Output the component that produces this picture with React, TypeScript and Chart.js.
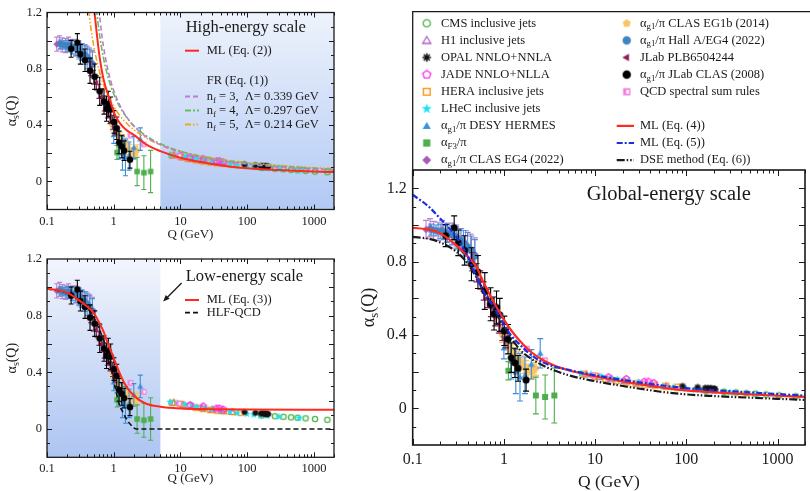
import React, { useEffect, useRef } from 'react';
import { Chart, registerables } from 'chart.js';

Chart.register(...registerables);

const SERIF = '"Liberation Serif", "Times New Roman", Times, serif';
const INK = '#1a1a1a';

// Axis ticks shared by the three panels
const xMajorTicks = [0.1, 1, 10, 100, 1000];
const yLabelTicks = [0, 0.4, 0.8, 1.2];

// ---------- extractions of alpha_s(Q): Q in GeV, value, uncertainty ----------
const cmsQ = [165, 260, 350, 455, 570, 750, 1040, 1590];
const cmsA = [0.095, 0.09, 0.086, 0.082, 0.079, 0.075, 0.07, 0.065];

const h1Q = [8, 11, 15, 21, 30, 42, 60];
const h1A = [0.185, 0.17, 0.158, 0.148, 0.137, 0.128, 0.12];

const opalQ = [91, 133, 161, 172, 183, 189, 200, 206];
const opalA = [0.12, 0.114, 0.11, 0.109, 0.108, 0.107, 0.106, 0.105];

const jadeQ = [14, 22, 34.6, 38.3, 43.8];
const jadeA = [0.17, 0.16, 0.145, 0.146, 0.138];

const heraQ = [7.5, 10, 13, 17, 22, 28, 35, 45, 60, 80];
const heraA = [0.185, 0.175, 0.16, 0.15, 0.142, 0.135, 0.13, 0.125, 0.12, 0.115];

const lhecQ = [7, 9, 11.7, 15, 17.5, 23, 30, 40, 55, 71, 99, 125, 155, 200, 300, 600];
const lhecA = [0.19, 0.185, 0.175, 0.165, 0.157, 0.148, 0.14, 0.13, 0.12, 0.113, 0.106, 0.101, 0.097, 0.093, 0.087, 0.078];

const hermesQ = [1.0, 1.2, 1.35, 1.5, 1.7, 2.0, 2.5];
const hermesA = [0.33, 0.26, 0.2, 0.17, 0.18, 0.24, 0.3];
const hermesE = [0.06, 0.1, 0.12, 0.13, 0.1, 0.08, 0.08];

const f3Q = [1.12, 2.24, 2.83, 3.57];
const f3A = [0.205, 0.07, 0.062, 0.07];
const f3E = [0.05, 0.1, 0.12, 0.15];

const eg4Q = [0.14, 0.155, 0.17, 0.19, 0.21, 0.24, 0.27, 0.3, 0.34, 0.38, 0.43, 0.48];
const eg4A = [0.975, 0.985, 0.97, 0.965, 0.975, 0.96, 0.95, 0.94, 0.92, 0.9, 0.87, 0.84];
const eg4E = [0.05, 0.05, 0.05, 0.05, 0.05, 0.05, 0.06, 0.06, 0.06, 0.07, 0.08, 0.09];

const eg1bQ = [0.95, 1.05, 1.15, 1.25, 1.35, 1.45, 1.55, 1.65, 1.75, 1.85, 1.95, 2.05, 2.15, 2.25];
const eg1bA = [0.4, 0.37, 0.34, 0.31, 0.29, 0.27, 0.25, 0.23, 0.22, 0.2, 0.2, 0.2, 0.21, 0.22];
const eg1bE = [0.04, 0.04, 0.04, 0.04, 0.04, 0.04, 0.04, 0.04, 0.04, 0.04, 0.04, 0.04, 0.04, 0.04];

const hallAQ = [0.16, 0.18, 0.2, 0.22, 0.24, 0.27, 0.3, 0.33, 0.36, 0.4, 0.44, 0.48];
const hallAA = [0.975, 0.97, 0.965, 0.96, 0.955, 0.945, 0.93, 0.92, 0.9, 0.88, 0.86, 0.83];
const hallAE = [0.03, 0.03, 0.04, 0.04, 0.05, 0.05, 0.06, 0.06, 0.07, 0.08, 0.08, 0.09];

const plbQ = [0.45, 0.5, 0.55, 0.6, 0.66, 0.72, 0.8, 0.88, 0.96, 1.05];
const plbA = [0.8, 0.74, 0.7, 0.64, 0.6, 0.55, 0.5, 0.46, 0.42, 0.38];
const plbE = [0.05, 0.05, 0.05, 0.05, 0.05, 0.05, 0.05, 0.05, 0.05, 0.05];

const clasQ = [0.23, 0.285, 0.316, 0.371, 0.441, 0.519, 0.617, 0.715, 0.78, 0.83, 0.9, 1.01, 1.11, 1.2, 1.32, 1.43, 1.75];
const clasA = [0.942, 0.985, 0.903, 0.861, 0.786, 0.744, 0.64, 0.568, 0.517, 0.55, 0.51, 0.423, 0.377, 0.276, 0.248, 0.218, 0.154];
const clasE = [0.06, 0.065, 0.07, 0.08, 0.09, 0.09, 0.1, 0.09, 0.09, 0.09, 0.09, 0.08, 0.08, 0.08, 0.08, 0.07, 0.06];

const ssrQ = [1.78, 2.8, 9.5];
const ssrA = [0.325, 0.262, 0.18];

// ---------- model curves ----------
// high-energy panel
const ml2Q = [0.5, 0.56, 0.62, 0.7, 0.88, 1.05, 1.25, 1.5, 2, 3, 5, 10, 20, 50, 100, 200, 500, 1000, 2000];
const ml2A = [1.26, 1.04, 0.87, 0.73, 0.575, 0.47, 0.41, 0.37, 0.33, 0.265, 0.215, 0.168, 0.137, 0.108, 0.094, 0.084, 0.076, 0.07, 0.066];

const fr3Q = [0.6, 0.65, 0.7, 0.8, 0.9, 1, 1.2, 1.5, 2, 3, 5, 10, 20, 50, 100, 200, 500, 1000, 2000];
const fr3A = [1.222, 1.072, 0.963, 0.813, 0.715, 0.645, 0.552, 0.47, 0.393, 0.32, 0.26, 0.206, 0.171, 0.14, 0.123, 0.109, 0.096, 0.087, 0.08];

const fr4Q = [0.55, 0.6, 0.7, 0.8, 0.9, 1, 1.2, 1.5, 2, 3, 5, 10, 20, 50, 100, 200, 500, 1000, 2000];
const fr4A = [1.224, 1.072, 0.879, 0.761, 0.68, 0.621, 0.54, 0.466, 0.395, 0.326, 0.267, 0.214, 0.179, 0.147, 0.13, 0.116, 0.102, 0.093, 0.086];

const fr5Q = [0.42, 0.45, 0.5, 0.6, 0.7, 0.8, 1, 1.2, 1.5, 2, 3, 5, 10, 20, 50, 100, 200, 500, 1000, 2000];
const fr5A = [1.216, 1.103, 0.966, 0.795, 0.692, 0.622, 0.532, 0.475, 0.421, 0.367, 0.31, 0.26, 0.213, 0.181, 0.15, 0.133, 0.12, 0.106, 0.097, 0.09];

// low-energy panel
const ml3Q = [0.1, 0.15, 0.2, 0.3, 0.4, 0.5, 0.6, 0.7, 0.8, 1, 1.2, 1.5, 2, 3, 5, 10, 30, 100, 2000];
const ml3A = [0.99, 0.98, 0.962, 0.91, 0.865, 0.82, 0.755, 0.69, 0.615, 0.5, 0.405, 0.31, 0.235, 0.18, 0.157, 0.145, 0.14, 0.137, 0.135];

const hlfQ = [0.1, 0.2, 0.3, 0.4, 0.5, 0.6, 0.7, 0.8, 1, 1.2, 1.4, 1.6, 1.8, 2, 2.2, 10, 100, 2000];
const hlfA = [0.99, 0.96, 0.91, 0.855, 0.79, 0.71, 0.63, 0.55, 0.34, 0.18, 0.11, 0.06, 0.03, 0.008, 0, 0, 0, 0];

// global panel
const globalQ = [0.1, 0.15, 0.2, 0.3, 0.4, 0.5, 0.6, 0.7, 0.8, 1, 1.2, 1.5, 2, 3, 5, 10, 20, 50, 100, 200, 500, 1000, 2000];
const ml4A = [0.985, 0.975, 0.955, 0.89, 0.83, 0.77, 0.685, 0.62, 0.566, 0.484, 0.426, 0.367, 0.306, 0.25, 0.209, 0.175, 0.147, 0.116, 0.098, 0.087, 0.076, 0.069, 0.062];
const ml5A = [1.165, 1.1, 1.035, 0.935, 0.83, 0.718, 0.635, 0.586, 0.543, 0.458, 0.398, 0.347, 0.29, 0.24, 0.211, 0.18, 0.155, 0.127, 0.11, 0.099, 0.087, 0.078, 0.069];
const dseA = [0.935, 0.925, 0.905, 0.855, 0.79, 0.715, 0.64, 0.58, 0.53, 0.445, 0.385, 0.32, 0.27, 0.222, 0.182, 0.148, 0.122, 0.092, 0.076, 0.067, 0.058, 0.052, 0.046];

// shaded Q windows
const highShade = [5, 2000];
const lowShade = [0.1, 5];

// arrow of the low-energy label, in (Q, alpha) coordinates
const arrowTail = [10.4, 1.03];
const arrowHead = [5.5, 0.9];

// ---------- marker glyphs ----------
type Seg = string | { sub: string };

function makeMarker(shape: string, color: string, filled: boolean, size: number): HTMLCanvasElement {
  const d = Math.ceil(size + 5);
  const c = document.createElement('canvas');
  c.width = d;
  c.height = d;
  const g = c.getContext('2d') as CanvasRenderingContext2D;
  g.translate(d / 2, d / 2);
  const r = size / 2;
  g.strokeStyle = color;
  g.fillStyle = color;
  g.lineWidth = 1.3;
  const poly = (n: number, rr: number, start: number, dy = 0) => {
    g.beginPath();
    for (let i = 0; i < n; i++) {
      const t = start + (i * 2 * Math.PI) / n;
      g.lineTo(rr * Math.cos(t), rr * Math.sin(t) + dy);
    }
    g.closePath();
  };
  switch (shape) {
    case 'circle':
      g.beginPath();
      g.arc(0, 0, filled ? r : r - 0.6, 0, Math.PI * 2);
      break;
    case 'square': {
      const s = filled ? r * 0.85 : r * 0.8;
      g.beginPath();
      g.rect(-s, -s, 2 * s, 2 * s);
      break;
    }
    case 'halfSquare': {
      const s = r * 0.85;
      g.fillRect(-s, -s, 2 * s, 2 * s);
      g.fillStyle = '#ffffff';
      g.fillRect(-s * 0.15, -s * 0.55, s * 0.75, s * 1.1);
      return c;
    }
    case 'triangle':
      poly(3, r * 1.1, -Math.PI / 2, r * 0.15);
      break;
    case 'triLeft':
      poly(3, r * 1.05, Math.PI);
      break;
    case 'diamond':
      poly(4, r * 1.05, -Math.PI / 2);
      break;
    case 'pentagon':
      poly(5, r * 1.0, -Math.PI / 2);
      break;
    case 'star': {
      g.beginPath();
      for (let i = 0; i < 10; i++) {
        const rr = i % 2 === 0 ? r * 1.25 : r * 0.5;
        const t = -Math.PI / 2 + (i * Math.PI) / 5;
        g.lineTo(rr * Math.cos(t), rr * Math.sin(t));
      }
      g.closePath();
      break;
    }
    case 'asterisk': {
      g.lineWidth = 1.5;
      g.beginPath();
      for (let i = 0; i < 4; i++) {
        const t = (i * Math.PI) / 4;
        g.moveTo(-r * Math.cos(t), -r * Math.sin(t));
        g.lineTo(r * Math.cos(t), r * Math.sin(t));
      }
      g.stroke();
      return c;
    }
    default:
      break;
  }
  if (filled) g.fill();
  else g.stroke();
  return c;
}

// ---------- series table ----------
const series: Record<string, any> = {
  cms: { label: ['CMS inclusive jets'], shape: 'circle', color: '#4db548', filled: false, q: cmsQ, a: cmsA },
  h1: { label: ['H1 inclusive jets'], shape: 'triangle', color: '#ad62c7', filled: false, q: h1Q, a: h1A },
  opal: { label: ['OPAL NNLO+NNLA'], shape: 'asterisk', color: '#111111', filled: true, q: opalQ, a: opalA },
  jade: { label: ['JADE NNLO+NLLA'], shape: 'pentagon', color: '#ff2ef0', filled: false, q: jadeQ, a: jadeA },
  hera: { label: ['HERA inclusive jets'], shape: 'square', color: '#ff8a00', filled: false, q: heraQ, a: heraA },
  lhec: { label: ['LHeC inclusive jets'], shape: 'star', color: '#16e4f4', filled: true, q: lhecQ, a: lhecA },
  hermes: { label: ['α', { sub: 'g1' }, '/π DESY HERMES'], shape: 'triangle', color: '#3b8ed8', filled: true, q: hermesQ, a: hermesA, e: hermesE },
  f3: { label: ['α', { sub: 'F3' }, '/π'], shape: 'square', color: '#4eae4e', filled: true, q: f3Q, a: f3A, e: f3E },
  eg4: { label: ['α', { sub: 'g1' }, '/π CLAS EG4 (2022)'], shape: 'diamond', color: '#a65bb8', filled: true, q: eg4Q, a: eg4A, e: eg4E, bar: '#bb7fd0' },
  eg1b: { label: ['α', { sub: 'g1' }, '/π CLAS EG1b (2014)'], shape: 'pentagon', color: '#f8c468', filled: true, q: eg1bQ, a: eg1bA, e: eg1bE },
  hallA: { label: ['α', { sub: 'g1' }, '/π Hall A/EG4 (2022)'], shape: 'circle', color: '#3d84c4', filled: true, q: hallAQ, a: hallAA, e: hallAE, bar: '#4a95d6' },
  plb: { label: ['JLab PLB6504244'], shape: 'triLeft', color: '#8e1d55', filled: true, q: plbQ, a: plbA, e: plbE },
  clas: { label: ['α', { sub: 'g1' }, '/π JLab CLAS (2008)'], shape: 'circle', color: '#000000', filled: true, q: clasQ, a: clasA, e: clasE },
  ssr: { label: ['QCD spectral sum rules'], shape: 'halfSquare', color: '#f57cd8', filled: true, q: ssrQ, a: ssrA },
};

// earlier entries are painted on top
const drawOrder = ['clas', 'f3', 'plb', 'hermes', 'eg1b', 'hallA', 'eg4', 'ssr', 'opal', 'jade', 'lhec', 'hera', 'h1', 'cms'];
const legendLeft = ['cms', 'h1', 'opal', 'jade', 'hera', 'lhec', 'hermes', 'f3', 'eg4'];
const legendRight = ['eg1b', 'hallA', 'plb', 'clas', 'ssr'];

// curve styles
const RED = '#ff2a1f';
const curveStyles: Record<string, any> = {
  ml2: { q: ml2Q, a: ml2A, color: RED, width: 2, dash: [] },
  fr3: { q: fr3Q, a: fr3A, color: '#c17ad2', width: 1.6, dash: [5, 3] },
  fr4: { q: fr4Q, a: fr4A, color: '#63c05a', width: 1.6, dash: [6, 2, 2, 2] },
  fr5: { q: fr5Q, a: fr5A, color: '#f5a323', width: 1.6, dash: [6, 2, 1.5, 2, 1.5, 2] },
  ml3: { q: ml3Q, a: ml3A, color: RED, width: 2, dash: [] },
  hlf: { q: hlfQ, a: hlfA, color: '#111111', width: 1.6, dash: [5, 3] },
  ml4: { q: globalQ, a: ml4A, color: RED, width: 2.2, dash: [] },
  ml5: { q: globalQ, a: ml5A, color: '#1c2fe0', width: 2.2, dash: [6, 2, 2, 2] },
  dse: { q: globalQ, a: dseA, color: '#1a1a1a', width: 2.2, dash: [8, 2, 1.5, 2, 1.5, 2] },
};

// ---------- drawing helpers ----------
function drawRich(ctx: CanvasRenderingContext2D, segs: Seg[], x: number, y: number, size: number, align = 'left', color = INK) {
  const big = `${size}px ${SERIF}`;
  const small = `${(size * 0.7).toFixed(1)}px ${SERIF}`;
  const parts = segs.map((s) => (typeof s === 'string' ? { t: s, f: big, dy: 0 } : { t: s.sub, f: small, dy: size * 0.3 }));
  let w = 0;
  for (const p of parts) {
    ctx.font = p.f;
    w += ctx.measureText(p.t).width;
  }
  let cx = align === 'center' ? x - w / 2 : x;
  ctx.fillStyle = color;
  ctx.textAlign = 'left';
  ctx.textBaseline = 'middle';
  for (const p of parts) {
    ctx.font = p.f;
    ctx.fillText(p.t, cx, y + p.dy);
    cx += ctx.measureText(p.t).width;
  }
}

function drawRotated(ctx: CanvasRenderingContext2D, segs: Seg[], x: number, y: number, size: number) {
  ctx.save();
  ctx.translate(x, y);
  ctx.rotate(-Math.PI / 2);
  drawRich(ctx, segs, 0, 0, size, 'center');
  ctx.restore();
}

function drawSample(ctx: CanvasRenderingContext2D, x1: number, x2: number, y: number, style: any) {
  ctx.save();
  ctx.strokeStyle = style.color;
  ctx.lineWidth = Math.max(style.width, 1.8);
  ctx.setLineDash(style.dash);
  ctx.beginPath();
  ctx.moveTo(x1, y);
  ctx.lineTo(x2, y);
  ctx.stroke();
  ctx.restore();
}

const alphaS: Seg[] = ['α', { sub: 's' }, '(Q)'];

// ---------- plugins ----------
function errorBarPlugin(capHalf: number) {
  return {
    id: 'errorBars',
    beforeDatasetDraw(chart: any, args: any) {
      const ds = chart.data.datasets[args.index];
      if (!ds.errColor) return;
      const { ctx, chartArea: a } = chart;
      const xs = chart.scales.x;
      const ys = chart.scales.y;
      ctx.save();
      ctx.beginPath();
      ctx.rect(a.left, a.top, a.right - a.left, a.bottom - a.top);
      ctx.clip();
      ctx.strokeStyle = ds.errColor;
      ctx.lineWidth = 1.1;
      ctx.beginPath();
      for (const p of ds.data) {
        if (!p.e) continue;
        const px = xs.getPixelForValue(p.x);
        const y1 = ys.getPixelForValue(p.y - p.e);
        const y2 = ys.getPixelForValue(p.y + p.e);
        ctx.moveTo(px, y1);
        ctx.lineTo(px, y2);
        ctx.moveTo(px - capHalf, y1);
        ctx.lineTo(px + capHalf, y1);
        ctx.moveTo(px - capHalf, y2);
        ctx.lineTo(px + capHalf, y2);
      }
      ctx.stroke();
      ctx.restore();
    },
  };
}

function shadePlugin(range: number[], topColor: string, bottomColor: string) {
  return {
    id: 'shade',
    beforeDatasetsDraw(chart: any) {
      const { ctx, chartArea: a } = chart;
      const xs = chart.scales.x;
      const x0 = xs.getPixelForValue(range[0]);
      const x1 = xs.getPixelForValue(range[1]);
      const grad = ctx.createLinearGradient(0, a.top, 0, a.bottom);
      grad.addColorStop(0, topColor);
      grad.addColorStop(1, bottomColor);
      ctx.save();
      ctx.fillStyle = grad;
      ctx.fillRect(x0, a.top, x1 - x0, a.bottom - a.top);
      ctx.restore();
    },
  };
}

function framePlugin(lw: number, majorLen: number, minorLen: number) {
  return {
    id: 'frame',
    afterDatasetsDraw(chart: any) {
      const { ctx, chartArea: a } = chart;
      const xs = chart.scales.x;
      const ys = chart.scales.y;
      ctx.save();
      ctx.strokeStyle = INK;
      ctx.lineWidth = 1;
      ctx.beginPath();
      const xTick = (v: number, len: number) => {
        const px = Math.round(xs.getPixelForValue(v)) + 0.5;
        ctx.moveTo(px, a.bottom);
        ctx.lineTo(px, a.bottom - len);
        ctx.moveTo(px, a.top);
        ctx.lineTo(px, a.top + len);
      };
      const yTick = (v: number, len: number) => {
        const py = Math.round(ys.getPixelForValue(v)) + 0.5;
        ctx.moveTo(a.left, py);
        ctx.lineTo(a.left + len, py);
        ctx.moveTo(a.right, py);
        ctx.lineTo(a.right - len, py);
      };
      for (const d of xMajorTicks) {
        xTick(d, majorLen);
        for (let k = 2; k <= 9; k++) if (k * d <= 2000) xTick(k * d, minorLen);
      }
      const lo = Math.round(ys.min * 10);
      const hi = Math.round(ys.max * 10);
      for (let i = lo + 1; i < hi; i++) yTick(i / 10, i % 2 === 0 ? majorLen : minorLen);
      ctx.stroke();
      ctx.lineWidth = lw;
      ctx.strokeRect(a.left, a.top, a.right - a.left, a.bottom - a.top);
      ctx.restore();
    },
  };
}

// ---------- chart factory ----------
function pointDataset(key: string, size: number) {
  const s = series[key];
  return {
    label: key,
    data: s.q.map((q: number, i: number) => ({ x: q, y: s.a[i], e: s.e ? s.e[i] : 0 })),
    pointStyle: makeMarker(s.shape, s.color, s.filled, size),
    pointRadius: size / 2,
    showLine: false,
    errColor: s.e ? s.bar || s.color : null,
  };
}

function curveDataset(key: string) {
  const c = curveStyles[key];
  return {
    type: 'line',
    label: key,
    data: c.q.map((q: number, i: number) => ({ x: q, y: c.a[i] })),
    borderColor: c.color,
    borderWidth: c.width,
    borderDash: c.dash,
    pointRadius: 0,
    fill: false,
    cubicInterpolationMode: 'monotone',
  };
}

function buildChart(canvas: HTMLCanvasElement, cfg: any) {
  const tickFont = { family: SERIF, size: cfg.tickFont };
  const datasets = [...cfg.curves.map(curveDataset), ...drawOrder.map((k) => pointDataset(k, cfg.markerSize))];
  return new Chart(canvas, {
    type: 'scatter',
    data: { datasets },
    options: {
      animation: false,
      responsive: false,
      events: [],
      layout: { padding: { left: 0, top: cfg.padTop, right: cfg.padRight, bottom: 0 } },
      plugins: { legend: { display: false }, tooltip: { enabled: false } },
      scales: {
        x: {
          type: 'logarithmic',
          min: 0.1,
          max: 2000,
          grid: { display: false, drawTicks: false },
          border: { display: false },
          afterBuildTicks: (s: any) => {
            s.ticks = xMajorTicks.map((v) => ({ value: v }));
          },
          afterFit: (s: any) => {
            s.height = cfg.xHeight;
          },
          ticks: { autoSkip: false, maxRotation: 0, padding: cfg.xPad, color: INK, font: tickFont, callback: (v: any) => String(v) },
        },
        y: {
          type: 'linear',
          min: -0.2,
          max: cfg.yMax,
          grid: { display: false, drawTicks: false },
          border: { display: false },
          afterBuildTicks: (s: any) => {
            s.ticks = yLabelTicks.map((v) => ({ value: v }));
          },
          afterFit: (s: any) => {
            s.width = cfg.yWidth;
          },
          ticks: { padding: cfg.yPad, color: INK, font: tickFont, callback: (v: any) => String(v) },
        },
      },
    },
    plugins: [errorBarPlugin(cfg.capHalf), framePlugin(cfg.frameWidth, cfg.majorLen, cfg.minorLen), ...cfg.extraPlugins],
  } as any);
}

// ---------- panels ----------
function buildHigh(canvas: HTMLCanvasElement) {
  const overlay = {
    id: 'highOverlay',
    afterDraw(chart: any) {
      const { ctx, chartArea: a } = chart;
      drawRotated(ctx, alphaS, 12, (a.top + a.bottom) / 2, 14);
      drawRich(ctx, ['Q (GeV)'], (a.left + a.right) / 2, 235, 13, 'center');
      drawRich(ctx, ['High-energy scale'], 185.7, 28, 16.5);
      drawSample(ctx, 185, 199, 50.7, curveStyles.ml2);
      drawRich(ctx, ['ML (Eq. (2))'], 206.7, 50.7, 12.5);
      drawRich(ctx, ['FR (Eq. (1))'], 206.7, 81, 12.5);
      drawSample(ctx, 185, 199, 96.5, curveStyles.fr3);
      drawRich(ctx, ['n', { sub: 'f' }, ' = 3,  Λ= 0.339 GeV'], 206.7, 96.5, 12.5);
      drawSample(ctx, 185, 199, 110.5, curveStyles.fr4);
      drawRich(ctx, ['n', { sub: 'f' }, ' = 4,  Λ= 0.297 GeV'], 206.7, 110.5, 12.5);
      drawSample(ctx, 185, 199, 124.5, curveStyles.fr5);
      drawRich(ctx, ['n', { sub: 'f' }, ' = 5,  Λ= 0.214 GeV'], 206.7, 124.5, 12.5);
    },
  };
  return buildChart(canvas, {
    yMax: 1.2,
    padTop: 10,
    padRight: 11,
    yWidth: 47,
    xHeight: 35.5,
    tickFont: 12.5,
    xPad: 5,
    yPad: 5,
    markerSize: 6.5,
    capHalf: 2.5,
    frameWidth: 1.3,
    majorLen: 5,
    minorLen: 3,
    curves: ['ml2', 'fr3', 'fr4', 'fr5'],
    extraPlugins: [shadePlugin(highShade, '#eef3fc', '#b2c9f4'), overlay],
  });
}

function buildLow(canvas: HTMLCanvasElement) {
  const overlay = {
    id: 'lowOverlay',
    afterDraw(chart: any) {
      const { ctx, chartArea: a } = chart;
      const xs = chart.scales.x;
      const ys = chart.scales.y;
      drawRotated(ctx, alphaS, 12, (a.top + a.bottom) / 2, 14);
      drawRich(ctx, ['Q (GeV)'], (a.left + a.right) / 2, 234, 13, 'center');
      drawRich(ctx, ['Low-energy scale'], 185.7, 31.7, 16.5);
      drawSample(ctx, 185, 199, 55, curveStyles.ml3);
      drawRich(ctx, ['ML (Eq. (3))'], 206.7, 55, 12.5);
      drawSample(ctx, 185, 199, 67.7, curveStyles.hlf);
      drawRich(ctx, ['HLF-QCD'], 206.7, 67.7, 12.5);
      // pointer arrow
      const x0 = xs.getPixelForValue(arrowTail[0]);
      const y0 = ys.getPixelForValue(arrowTail[1]);
      const x1 = xs.getPixelForValue(arrowHead[0]);
      const y1 = ys.getPixelForValue(arrowHead[1]);
      const ang = Math.atan2(y1 - y0, x1 - x0);
      ctx.save();
      ctx.strokeStyle = INK;
      ctx.fillStyle = INK;
      ctx.lineWidth = 1.3;
      ctx.beginPath();
      ctx.moveTo(x0, y0);
      ctx.lineTo(x1 - 4 * Math.cos(ang), y1 - 4 * Math.sin(ang));
      ctx.stroke();
      ctx.beginPath();
      ctx.moveTo(x1, y1);
      ctx.lineTo(x1 - 7 * Math.cos(ang - 0.4), y1 - 7 * Math.sin(ang - 0.4));
      ctx.lineTo(x1 - 7 * Math.cos(ang + 0.4), y1 - 7 * Math.sin(ang + 0.4));
      ctx.closePath();
      ctx.fill();
      ctx.restore();
    },
  };
  return buildChart(canvas, {
    yMax: 1.2,
    padTop: 14,
    padRight: 11,
    yWidth: 47,
    xHeight: 33.7,
    tickFont: 12.5,
    xPad: 4,
    yPad: 5,
    markerSize: 6.5,
    capHalf: 2.5,
    frameWidth: 1.3,
    majorLen: 5,
    minorLen: 3,
    curves: ['ml3', 'hlf'],
    extraPlugins: [shadePlugin(lowShade, '#f2f5fc', '#adc5f2'), overlay],
  });
}

function buildGlobal(canvas: HTMLCanvasElement) {
  const legendMarkers: Record<string, HTMLCanvasElement> = {};
  for (const k of Object.keys(series)) legendMarkers[k] = makeMarker(series[k].shape, series[k].color, series[k].filled, 8.5);
  const overlay = {
    id: 'globalOverlay',
    afterDraw(chart: any) {
      const { ctx, chartArea: a, width } = chart;
      drawRotated(ctx, alphaS, 14, (a.top + a.bottom) / 2, 18);
      drawRich(ctx, ['Q (GeV)'], (a.left + a.right) / 2, 482, 17.5, 'center');
      drawRich(ctx, ['Global-energy scale'], 231.7, 194.3, 20.5);
      // legend box
      ctx.save();
      ctx.strokeStyle = INK;
      ctx.lineWidth = 1.3;
      ctx.beginPath();
      ctx.moveTo(a.left, a.top);
      ctx.lineTo(a.left, 11.7);
      ctx.lineTo(width + 2, 11.7);
      ctx.stroke();
      ctx.restore();
      const rowY = (i: number) => 23.3 + i * 17.1;
      legendLeft.forEach((k, i) => {
        const m = legendMarkers[k];
        ctx.drawImage(m, 71.7 - m.width / 2, rowY(i) - m.height / 2);
        drawRich(ctx, series[k].label, 86, rowY(i), 12.5);
      });
      legendRight.forEach((k, i) => {
        const m = legendMarkers[k];
        ctx.drawImage(m, 271.7 - m.width / 2, rowY(i) - m.height / 2);
        drawRich(ctx, series[k].label, 285, rowY(i), 12.5);
      });
      const lines: [string, Seg[]][] = [
        ['ml4', ['ML (Eq. (4))']],
        ['ml5', ['ML (Eq. (5))']],
        ['dse', ['DSE method (Eq. (6))']],
      ];
      lines.forEach(([k, label], j) => {
        const y = rowY(6 + j);
        drawSample(ctx, 261.7, 279, y, curveStyles[k]);
        drawRich(ctx, label, 285, y, 12.5);
      });
    },
  };
  return buildChart(canvas, {
    yMax: 1.3,
    padTop: 170,
    padRight: 1,
    yWidth: 57.7,
    xHeight: 46,
    tickFont: 16,
    xPad: 5,
    yPad: 6,
    markerSize: 7,
    capHalf: 3,
    frameWidth: 1.6,
    majorLen: 6,
    minorLen: 3.5,
    curves: ['ml5', 'ml4', 'dse'],
    extraPlugins: [overlay],
  });
}

function Panel({ build, left, top, width, height }: any) {
  const ref = useRef<HTMLCanvasElement | null>(null);
  useEffect(() => {
    if (!ref.current) return;
    const chart = build(ref.current);
    return () => chart.destroy();
  }, [build]);
  return (
    <canvas
      ref={ref}
      width={width}
      height={height}
      style={{ position: 'absolute', left, top, width, height, display: 'block' }}
    />
  );
}

export default function App() {
  return (
    <div style={{ position: 'fixed', left: 0, top: 0, width: 810, height: 491, background: '#ffffff', overflow: 'hidden' }}>
      <Panel build={buildHigh} left={0} top={0} width={345} height={245} />
      <Panel build={buildLow} left={0} top={245} width={345} height={246} />
      <Panel build={buildGlobal} left={355} top={0} width={455} height={491} />
    </div>
  );
}
